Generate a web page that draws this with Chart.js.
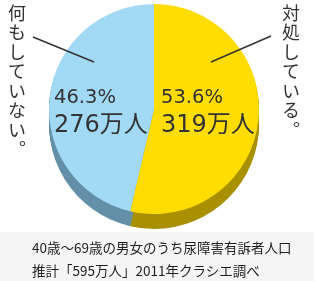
<!DOCTYPE html>
<html>
<head>
<meta charset="utf-8">
<script src="https://cdn.jsdelivr.net/npm/chart.js@4"></script>
<style>
  body { margin: 0; background: #fff; }
  #wrap { position: relative; width: 325px; height: 281px; overflow: hidden; }
  #band { position: absolute; left: 0; top: 232px; width: 314px; height: 49px; background: #f5f5f5; }
  canvas { position: absolute; left: 0; top: 0; }
  .vlabel {
    position: absolute; top: 4px; writing-mode: vertical-rl;
    font-family: "Noto Sans CJK JP", sans-serif; font-size: 18px; line-height: 18px;
    letter-spacing: 1.5px; color: #333;
  }
  #caption {
    position: absolute; left: 32px; top: 236px;
    font-family: "Noto Sans CJK JP", sans-serif; font-size: 13.5px; line-height: 23px;
    color: #1e1e1e;
  }
</style>
</head>
<body>
<div id="wrap">
  <div id="band"></div>
  <canvas id="grafica" width="325" height="281"></canvas>
  <div class="vlabel" id="labelIzq" style="left:8px"></div>
  <div class="vlabel" id="labelDer" style="left:282px"></div>
  <div id="caption">40歳〜69歳の男女のうち尿障害有訴者人口<br>推計「595万人」2011年クラシエ調べ</div>
</div>
<script>
const categorias = ['対処している。', '何もしていない。'];
const porcentajes = [53.6, 46.3];
const personas = [319, 276]; // 万人

const colores = ['#ffdd00', '#a2d9f4'];
const coloresLado = ['#a99000', '#6390a8'];

document.getElementById('labelDer').textContent = categorias[0];
document.getElementById('labelIzq').textContent = categorias[1];

// lado 3D del pastel + etiquetas
const ladoPastel = {
  id: 'ladoPastel',
  beforeDatasetsDraw(chart) {
    const ctx = chart.ctx;
    const meta = chart.getDatasetMeta(0);
    meta.data.forEach((arc, i) => {
      ctx.save();
      ctx.fillStyle = coloresLado[i];
      for (let d = 1; d <= 15; d++) {
        ctx.beginPath();
        ctx.moveTo(arc.x, arc.y + d);
        ctx.arc(arc.x, arc.y + d, arc.outerRadius, arc.startAngle, arc.endAngle);
        ctx.closePath();
        ctx.fill();
      }
      ctx.restore();
    });
  },
  afterDatasetsDraw(chart) {
    const ctx = chart.ctx;
    const arc = chart.getDatasetMeta(0).data[0];
    const cx = arc.x, cy = arc.y;
    ctx.save();
    ctx.fillStyle = '#333';
    ctx.textAlign = 'left';
    ctx.textBaseline = 'alphabetic';
    const xs = [cx + 7, cx - 100];
    porcentajes.forEach((p, i) => {
      ctx.font = '19.5px "DejaVu Sans", "Noto Sans CJK JP", sans-serif';
      ctx.fillText(p.toFixed(1) + '%', xs[i], cy - 6);
      ctx.font = '24px "DejaVu Sans", "Noto Sans CJK JP", sans-serif';
      ctx.fillText(personas[i] + '万人', xs[i], cy + 23);
    });
    // líneas guía
    ctx.strokeStyle = '#333';
    ctx.lineWidth = 1.5;
    ctx.beginPath();
    ctx.moveTo(cx + 57, cy - 47);
    ctx.lineTo(cx + 117, cy - 73);
    ctx.moveTo(cx - 60, cy - 47);
    ctx.lineTo(cx - 121, cy - 72);
    ctx.stroke();
    ctx.restore();
  }
};

new Chart(document.getElementById('grafica').getContext('2d'), {
  type: 'pie',
  data: {
    labels: categorias,
    datasets: [{
      data: porcentajes,
      backgroundColor: colores,
      borderWidth: 0
    }]
  },
  options: {
    responsive: false,
    animation: false,
    layout: { padding: { left: 49, right: 66, top: 4, bottom: 67 } },
    plugins: { legend: { display: false }, tooltip: { enabled: false } }
  },
  plugins: [ladoPastel]
});
</script>
</body>
</html>
